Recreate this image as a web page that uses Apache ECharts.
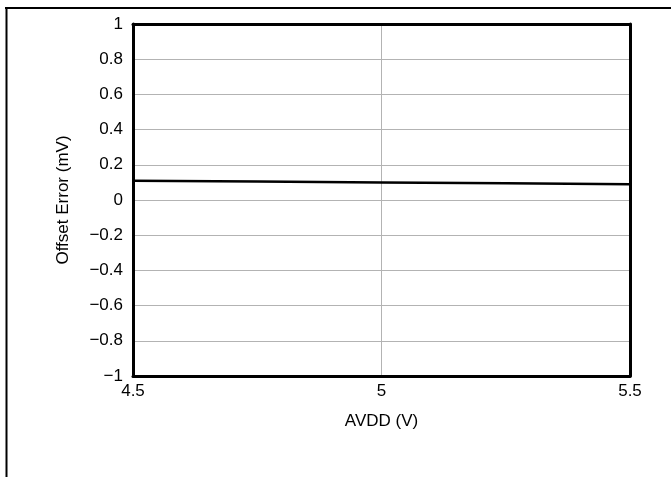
<!DOCTYPE html>
<html>
<head>
<meta charset="utf-8">
<script src="https://cdn.jsdelivr.net/npm/echarts@6/dist/echarts.min.js"></script>
<style>html,body{margin:0;padding:0;background:#fff}#c{width:671px;height:477px}</style>
</head>
<body>
<div id="c"></div>
<script>
const avdd = [4.5, 4.75, 5, 5.25, 5.5];
const offsetError = [0.11, 0.105, 0.1, 0.095, 0.09];
const xTicks = [4.5, 5, 5.5];
const yTicks = [-1, -0.8, -0.6, -0.4, -0.2, 0, 0.2, 0.4, 0.6, 0.8, 1];

const fmt = v => String(Math.round(v * 10) / 10).replace('-', '\u2212');
const chart = echarts.init(document.getElementById('c'), null, {renderer: 'canvas'});
const font = 'Liberation Sans, Arial, Helvetica, sans-serif';
const frameLine = {show: true, onZero: false, lineStyle: {color: '#000', width: 3}};
chart.setOption({
  animation: false,
  backgroundColor: '#fff',
  textStyle: {fontFamily: font},
  graphic: [
    {type: 'line', shape: {x1: 5, y1: 8, x2: 671, y2: 8}, style: {stroke: '#000', lineWidth: 2}},
    {type: 'line', shape: {x1: 6.5, y1: 8, x2: 6.5, y2: 477}, style: {stroke: '#000', lineWidth: 2}}
  ],
  grid: {left: 133, right: 41, top: 24, bottom: 101, show: false},
  xAxis: [{
    type: 'value', min: xTicks[0], max: xTicks[xTicks.length - 1], interval: 0.5,
    name: 'AVDD (V)', nameLocation: 'middle', nameGap: 37,
    nameTextStyle: {fontSize: 17, color: '#000', fontFamily: font},
    axisLine: frameLine, axisTick: {show: false}, z: 3,
    axisLabel: {fontSize: 17, color: '#000', margin: 7, fontFamily: font, formatter: v => fmt(v), showMinLabel: true, showMaxLabel: true},
    splitLine: {show: true, lineStyle: {color: '#b3b3b3', width: 1}}
  }, {
    type: 'value', position: 'top', min: xTicks[0], max: xTicks[xTicks.length - 1], interval: 0.5,
    axisLine: frameLine, axisTick: {show: false}, axisLabel: {show: false}, splitLine: {show: false}, z: 3
  }],
  yAxis: [{
    type: 'value', min: yTicks[0], max: yTicks[yTicks.length - 1], interval: 0.2,
    name: 'Offset Error (mV)', nameLocation: 'middle', nameGap: 61,
    nameTextStyle: {fontSize: 17, color: '#000', fontFamily: font},
    axisLine: frameLine, axisTick: {show: false}, z: 3,
    axisLabel: {fontSize: 17, color: '#000', margin: 10, fontFamily: font, formatter: v => fmt(v)},
    splitLine: {show: true, lineStyle: {color: '#b3b3b3', width: 1}}
  }, {
    type: 'value', position: 'right', min: yTicks[0], max: yTicks[yTicks.length - 1], interval: 0.2,
    axisLine: frameLine, axisTick: {show: false}, axisLabel: {show: false}, splitLine: {show: false}, z: 3
  }],
  series: [{
    type: 'line', data: avdd.map((x, i) => [x, offsetError[i]]),
    showSymbol: false, lineStyle: {color: '#000', width: 2.5}, z: 5
  }]
});
</script>
</body>
</html>
